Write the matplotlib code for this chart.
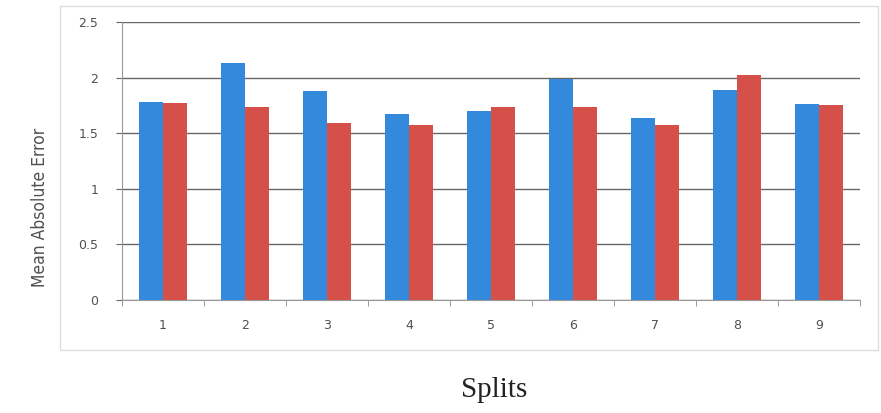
import numpy as np
import matplotlib.pyplot as plt
from matplotlib.patches import Rectangle

# ── Data ──────────────────────────────────────────────────────────────────────
splits = ["1", "2", "3", "4", "5", "6", "7", "8", "9"]
blue_vals = [1.78, 2.13, 1.88, 1.67, 1.70, 1.99, 1.64, 1.89, 1.76]
red_vals = [1.77, 1.74, 1.59, 1.57, 1.74, 1.74, 1.57, 2.02, 1.75]
y_ticks = [0, 0.5, 1, 1.5, 2, 2.5]
y_tick_labels = ["0", "0.5", "1", "1.5", "2", "2.5"]

BLUE = "#3389dc"
RED = "#d6504a"
GRID = "#666666"
TXT = "#505050"

fig = plt.figure(figsize=(8.81, 4.13), dpi=100)
fig.patch.set_facecolor("white")

# light frame around the chart area, as in the pasted Excel chart
fig.patches.append(Rectangle((60 / 881, 1 - 350 / 413), (878 - 60) / 881, (350 - 6) / 413,
                             transform=fig.transFigure, fill=False,
                             edgecolor="#dddddd", linewidth=1.0))

ax = fig.add_axes([122 / 881, 1 - 300 / 413, 738 / 881, 278 / 413])

x = np.arange(len(splits))
w = 0.29
ax.bar(x - w / 2, blue_vals, width=w, color=BLUE, zorder=3)
ax.bar(x + w / 2, red_vals, width=w, color=RED, zorder=3)

ax.set_xlim(-0.5, len(splits) - 0.5)
ax.set_ylim(0, 2.5)
ax.set_yticks(y_ticks)
ax.set_yticklabels(y_tick_labels)
ax.yaxis.grid(True, color=GRID, linewidth=1.0, zorder=0)
ax.set_axisbelow(True)

# category labels centered, tick marks at category boundaries
ax.set_xticks(x)
ax.set_xticklabels(splits)
ax.set_xticks(np.arange(-0.5, len(splits)), minor=True)
ax.tick_params(axis="x", which="major", length=0, pad=14, labelsize=9, labelcolor=TXT)
ax.tick_params(axis="x", which="minor", length=4, color="#888888", direction="out")
ax.tick_params(axis="y", length=4, color=GRID, pad=13, labelsize=9, labelcolor=TXT)

for s in ["top", "right"]:
    ax.spines[s].set_visible(False)
ax.spines["left"].set_color("#999999")
ax.spines["bottom"].set_color("#999999")

fig.text(40 / 881, 1 - 207 / 413, "Mean Absolute Error", rotation=90,
         ha="center", va="center", fontsize=12.5, color=TXT,
         family=["DejaVu Sans Condensed", "DejaVu Sans"], fontstretch="condensed")
fig.text(494 / 881, 1 - 390 / 413, "Splits", ha="center", va="center",
         fontsize=21, color="#222222", family="Liberation Serif")

fig.savefig("out.png", dpi=100)
